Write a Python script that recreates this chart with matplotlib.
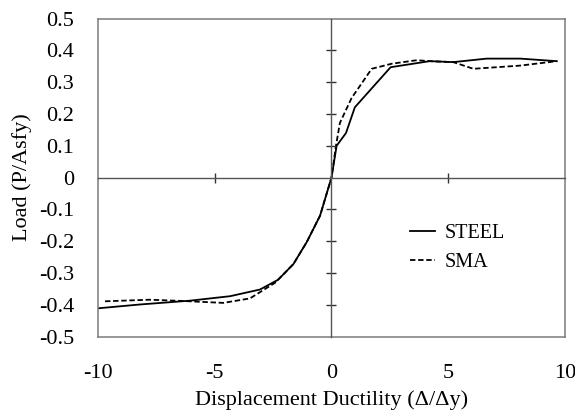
# load vs displacement ductility, steel vs SMA

import numpy as np
import matplotlib.pyplot as plt

plt.rcParams['font.family'] = ['Liberation Serif', 'DejaVu Serif']

steel_x = [-9.98, -8.19, -6.05, -4.34, -3.06, -2.28, -1.63, -1.06, -0.49, 0.0,
           0.22, 0.62, 1.0, 2.53, 4.2, 5.21, 6.64, 8.07, 9.64]
steel_y = [-0.411, -0.399, -0.387, -0.373, -0.352, -0.321, -0.272, -0.203, -0.12, 0.0,
           0.10, 0.14, 0.221, 0.347, 0.366, 0.363, 0.374, 0.374, 0.366]

sma_x = [-9.69, -7.77, -6.05, -4.63, -3.49, -2.42, -1.63, -1.06, -0.49, 0.0,
         0.19, 0.36, 0.86, 1.72, 2.58, 3.65, 4.2, 5.21, 6.07, 8.07, 9.64]
sma_y = [-0.389, -0.384, -0.389, -0.394, -0.38, -0.331, -0.272, -0.203, -0.12, 0.0,
         0.099, 0.172, 0.25, 0.342, 0.358, 0.369, 0.366, 0.363, 0.342, 0.352, 0.366]

x_ticks = [-10, -5, 0, 5, 10]
y_ticks = np.round(np.arange(-0.5, 0.51, 0.1), 1)
y_labels = ['0' if abs(v) < 1e-9 else f'{v:.1f}' for v in y_ticks]

xlim = (-10, 10)
ylim = (-0.5, 0.5)

fig = plt.figure(figsize=(5.75, 4.12), dpi=100)
rect = [0.170, 0.183, 0.813, 0.772]

# frame + outer tick labels
ax = fig.add_axes(rect)
ax.set_xlim(*xlim)
ax.set_ylim(*ylim)
ax.set_xticks(x_ticks)
ax.set_xticklabels([str(v) for v in x_ticks])
ax.set_yticks(y_ticks)
ax.set_yticklabels(y_labels)
ax.tick_params(axis='x', length=0, pad=20, labelsize=16)
ax.tick_params(axis='y', length=0, pad=17, labelsize=16)
for s in ax.spines.values():
    s.set_color('#7a7a7a')
    s.set_linewidth(1.1)
ax.set_xlabel('Displacement Ductility (\u0394/\u0394y)', fontsize=16, labelpad=5)
ax.set_ylabel('Load (P/Asfy)', fontsize=16, labelpad=5)

ax.plot(steel_x, steel_y, color='black', lw=1.3, label='STEEL')
ax.plot(sma_x, sma_y, color='black', lw=1.3, ls=(0, (3, 1.5)), label='SMA')

leg = ax.legend(loc='upper left', bbox_to_anchor=(0.63, 0.41), frameon=False,
                fontsize=14.5, handlelength=1.2, handletextpad=0.5, labelspacing=0.45)

# crossing axes through the origin
ax2 = fig.add_axes(rect)
ax2.set_xlim(*xlim)
ax2.set_ylim(*ylim)
ax2.patch.set_visible(False)
ax2.spines['left'].set_position(('data', 0))
ax2.spines['bottom'].set_position(('data', 0))
ax2.spines['top'].set_visible(False)
ax2.spines['right'].set_visible(False)
for s in ['left', 'bottom']:
    ax2.spines[s].set_color('#555555')
    ax2.spines[s].set_linewidth(1.0)
ax2.set_xticks([v for v in x_ticks if v not in (-10, 0, 10)])
ax2.set_yticks([v for v in y_ticks if abs(v) > 1e-9 and abs(v) < 0.5])
ax2.tick_params(direction='inout', length=7, width=1.0, color='#333333',
                labelleft=False, labelbottom=False)

fig.savefig('out.png', dpi=100)
